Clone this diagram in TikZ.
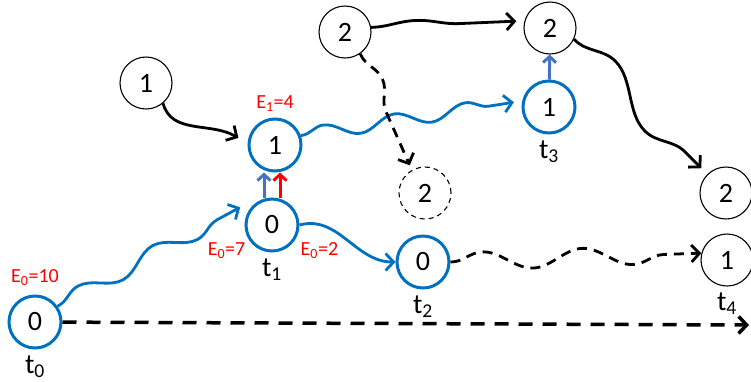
\documentclass[tikz,border=0pt]{standalone}
\usepackage{fontspec}
\setmainfont{Carlito}
\usetikzlibrary{arrows.meta, positioning, decorations.pathmorphing}
\definecolor{stateblue}{HTML}{0070C0}
\definecolor{liftblue}{HTML}{4472C4}

\begin{document}
\begin{tikzpicture}[x=1pt, y=-1pt,
        every node/.style={font=\fontsize{28}{30}\selectfont},
        cur/.style={circle, draw=stateblue, line width=3pt, minimum size=52pt, inner sep=0pt},
        oth/.style={circle, draw, line width=1.1pt, minimum size=52pt, inner sep=0pt},
        ghost/.style={oth, dash pattern=on 5pt off 4pt},
        tlab/.style={inner sep=1pt},
        elab/.style={text=red, font=\fontsize{20}{22}\selectfont, inner sep=1pt},
        arr/.style={-{Straight Barb[length=8pt, width=17pt]}, line width=2.8pt},
        barr/.style={arr, draw=stateblue},
        karr/.style={arr, draw=black},
        lift/.style={-{Straight Barb[length=6pt, width=13pt]}, line width=3pt},
        dashline/.style={dash pattern=on 10pt off 7pt},
        wave/.style={decorate, decoration={snake, amplitude=#1, segment length=80pt,
                     pre length=1pt, post length=9pt}},
        wave/.default=6pt
    ]
    \useasboundingbox (0,0) rectangle (751,381);

    % states of the walker
    \node[cur]  (t0)  at (35,322)  {0};
    \node[cur]  (t1)  at (272,225) {0};
    \node[cur]  (up1) at (275,145) {1};
    \node[cur]  (t2)  at (423,262) {0};
    \node[cur]  (t3)  at (549,107) {1};
    % other nodes
    \node[oth]  (in1)   at (146,83)  {1};
    \node[oth]  (in2)   at (345,32)  {2};
    \node[oth]  (top2)  at (550,28)  {2};
    \node[ghost](miss2) at (425,193) {2};
    \node[oth]  (end2)  at (726,193) {2};
    \node[oth]  (t4)    at (727,260) {1};
    \coordinate (tend) at (749,325);

    % time labels
    \node[tlab, below=5pt of t0] {t\textsubscript{0}};
    \node[tlab, below=5pt of t1] {t\textsubscript{1}};
    \node[tlab, below=5pt of t2] {t\textsubscript{2}};
    \node[tlab, below=5pt of t3] {t\textsubscript{3}};
    \node[tlab, below=5pt of t4] {t\textsubscript{4}};

    % energies
    \node[elab, above=8pt of t0] {E\textsubscript{0}=10};
    \node[elab, below left=16pt and -2pt of t1.west] {E\textsubscript{0}=7};
    \node[elab, below right=16pt and 0pt of t1.east] {E\textsubscript{0}=2};
    \node[elab, above=5pt of up1] {E\textsubscript{1}=4};

    % time axis
    \draw[arr, line width=3.5pt, dash pattern=on 14pt off 10pt] (t0) -- (tend);

    % walker moves
    \draw[barr, wave=8pt, decoration={segment length=85pt}] (t0.35) -- ([shift={(-8,-4)}]t1.150);
    \draw[barr] (t1.east) to[out=15, in=180] (t2);
    \draw[barr, wave=7pt, decoration={segment length=72pt}] (up1.20) -- ([xshift=-8pt]t3.170);
    \draw[lift, draw=liftblue] ([xshift=-8pt]t1.north) -- ([xshift=-8pt]t1.north |- up1.south);
    \draw[lift, draw=red] ([xshift=8pt]t1.north) -- ([xshift=8pt]t1.north |- up1.south);
    \draw[lift, draw=liftblue] (t3) -- (top2);

    % other moves
    \draw[karr] (in1.-50) to[out=-75, in=150] ([xshift=-10pt]up1.165);
    \draw[karr, wave=5pt, decoration={segment length=140pt}] (in2.10) -- ([xshift=-8pt]top2.165);
    \draw[karr, dashline, wave=10pt, decoration={segment length=100pt}] (in2.-55) -- ([yshift=6pt]miss2.125);
    \draw[karr, wave=14pt, decoration={segment length=140pt}] (top2.-25) -- ([shift={(-6,-6)}]end2.135);
    \draw[karr, dashline, wave=9pt, decoration={segment length=100pt}] (t2.east) -- (t4.165);
\end{tikzpicture}
\end{document}
